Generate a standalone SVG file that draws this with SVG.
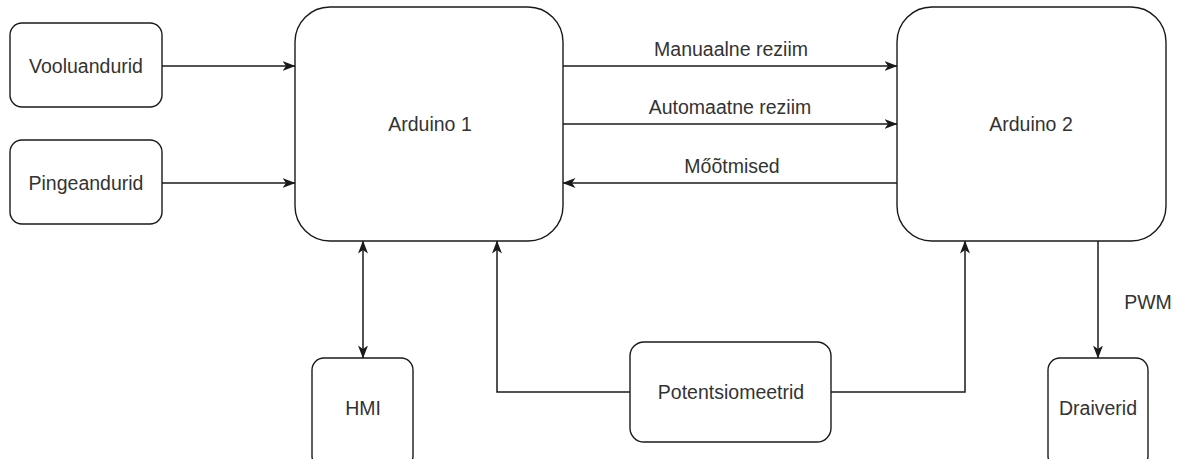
<svg xmlns="http://www.w3.org/2000/svg" width="1179" height="459" viewBox="0 0 1179 459">
<style>
.box{fill:#fff;stroke:#1a1a1a;stroke-width:1.4}
.t{font-family:"Liberation Sans",Arial,sans-serif;font-size:19.5px;fill:#333;text-anchor:middle}
.c{fill:none;stroke:#1a1a1a;stroke-width:1.5}
</style>
<defs>
<marker id="ah" viewBox="0 0 13 11" refX="12.5" refY="5.5" markerWidth="13" markerHeight="11" markerUnits="userSpaceOnUse" orient="auto-start-reverse">
<path d="M0,0.5 L13,5.5 L0,10.5 L3.5,5.5 Z" fill="#1a1a1a"/>
</marker>
</defs>
<rect width="1179" height="459" fill="#fff"/>
<g id="vooluandurid"><rect class="box" x="10" y="23" width="152" height="84" rx="12"/><text class="t" x="86" y="73">Vooluandurid</text></g>
<g id="pingeandurid"><rect class="box" x="10" y="140" width="152" height="84" rx="12"/><text class="t" x="86" y="190">Pingeandurid</text></g>
<g id="arduino1"><rect class="box" x="295" y="7" width="268" height="234" rx="35"/><text class="t" x="430" y="131">Arduino 1</text></g>
<g id="arduino2"><rect class="box" x="897" y="7" width="269" height="234" rx="35"/><text class="t" x="1031" y="131">Arduino 2</text></g>
<g id="hmi"><rect class="box" x="312" y="358" width="101" height="110" rx="12"/><text class="t" x="363" y="415">HMI</text></g>
<g id="potentsiomeetrid"><rect class="box" x="630" y="342" width="201" height="100" rx="14"/><text class="t" x="731" y="399">Potentsiomeetrid</text></g>
<g id="draiverid"><rect class="box" x="1048" y="358" width="100" height="110" rx="12"/><text class="t" x="1098" y="415">Draiverid</text></g>
<g id="connectors">
<path class="c" d="M162,66 L295,66" marker-end="url(#ah)"/>
<path class="c" d="M162,183 L295,183" marker-end="url(#ah)"/>
<path class="c" d="M563,66 L897,66" marker-end="url(#ah)"/>
<path class="c" d="M563,124 L897,124" marker-end="url(#ah)"/>
<path class="c" d="M897,183 L563,183" marker-end="url(#ah)"/>
<path class="c" d="M363,241 L363,358" marker-start="url(#ah)" marker-end="url(#ah)"/>
<path class="c" d="M630,392 L497,392 L497,241" marker-end="url(#ah)"/>
<path class="c" d="M831,392 L965,392 L965,241" marker-end="url(#ah)"/>
<path class="c" d="M1098,241 L1098,358" marker-end="url(#ah)"/>
<text class="t" x="731" y="56">Manuaalne reziim</text>
<text class="t" x="730" y="114">Automaatne reziim</text>
<text class="t" x="732" y="173">Mőõtmised</text>
<text class="t" x="1148" y="309">PWM</text>
</g>
</svg>
